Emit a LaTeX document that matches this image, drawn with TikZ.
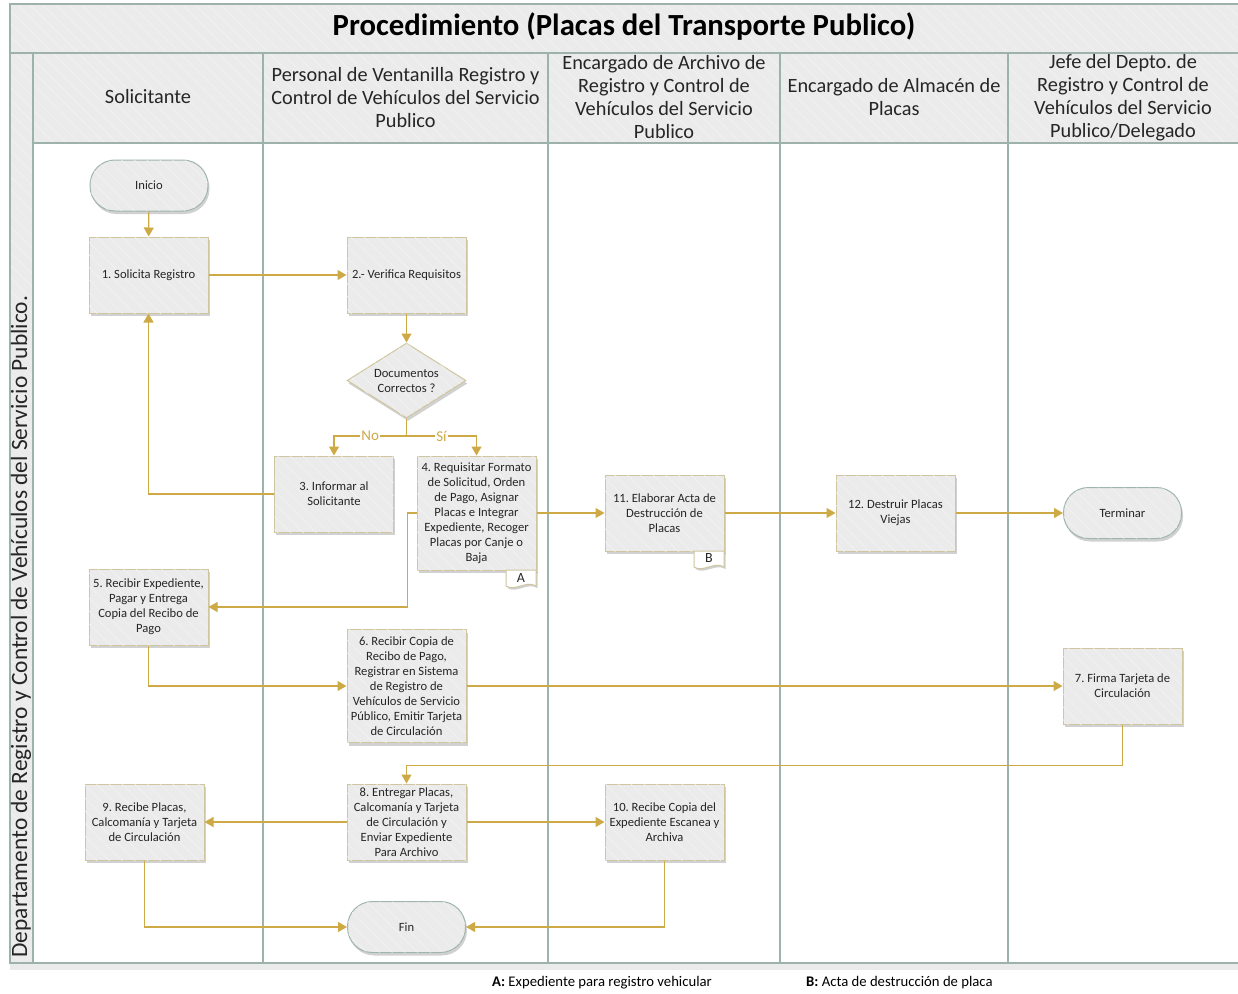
\documentclass[tikz,border=0pt]{standalone}
\usepackage{fontspec}
\setmainfont{Carlito}
\usetikzlibrary{shapes.geometric,shapes.misc,shadows,arrows.meta,patterns.meta,calc}
\definecolor{lanecol}{HTML}{9DB2AB}
\definecolor{boxfill}{HTML}{EBEBEB}
\definecolor{boxline}{HTML}{CFC6A0}
\definecolor{arrowcol}{HTML}{CDAA45}
\definecolor{headfill}{HTML}{EBEBEB}
\definecolor{termline}{HTML}{9FB5AD}
\definecolor{txt}{HTML}{262626}
\frenchspacing
\tikzset{
  hatch/.style={postaction={pattern={Lines[angle=-45,distance=9pt,line width=0.5pt]},pattern color=white!45!boxfill}},
  shade box/.style={drop shadow={shadow xshift=1.5pt,shadow yshift=-3pt,fill=black,opacity=0.18}},
  stepbox/.style={draw=boxline,line width=1pt,fill=boxfill,hatch,shade box,minimum width=119pt,minimum height=76pt,align=center,inner sep=1pt,font=\fontsize{12.6}{15}\selectfont,text=txt},
  term/.style={rectangle,rounded corners=25pt,draw=termline,line width=1pt,fill=boxfill,hatch,shade box,minimum width=118pt,minimum height=51pt,font=\fontsize{12.6}{15}\selectfont,text=txt},
  decision/.style={diamond,aspect=1.6,draw=boxline,line width=1pt,fill=boxfill,hatch,shade box,minimum width=119pt,minimum height=75pt,inner sep=0pt,align=center,font=\fontsize{12.6}{15}\selectfont,text=txt},
  flow/.style={draw=arrowcol,line width=1.2pt,-{Triangle[length=9pt,width=10pt]}},
  lbl/.style={fill=white,inner sep=1pt,text=arrowcol,font=\fontsize{15}{15}\selectfont},
  lane/.style={draw=lanecol,line width=1.3pt},
  headtxt/.style={align=center,font=\fontsize{20.3}{23}\selectfont,text=txt},
  tag/.style={draw=boxline,line width=1pt,fill=white,drop shadow={shadow xshift=1.5pt,shadow yshift=-2pt,fill=black,opacity=0.18}},
  tagtxt/.style={font=\fontsize{14}{15}\selectfont,text=txt,inner sep=0pt}
}
\begin{document}
\begin{tikzpicture}[x=1pt,y=-1pt]
\useasboundingbox (0,0) rectangle (1238,993);
% backgrounds
\fill[headfill,hatch] (10,4) rectangle (1238,53);
\fill[headfill,hatch] (10,53) rectangle (33,963);
\fill[headfill,hatch] (33,53) rectangle (1238,143);
\fill[black!8] (10,963) rectangle (1238,970);
% frame and lanes
\draw[lane] (1238,4) -- (10,4) -- (10,963) -- (1238,963);
\draw[lane] (10,53) -- (1238,53);
\draw[lane] (33,53) -- (33,963);
\draw[lane] (33,143) -- (1238,143);
\foreach \x in {263,548,780,1008} \draw[lane] (\x,53) -- (\x,963);
% title and headers
\node[font=\bfseries\fontsize{30.7}{32}\selectfont,text=black] (title) at (624,27) {Procedimiento (Placas del Transporte Publico)};
\node[rotate=90,font=\fontsize{23.4}{25}\selectfont,text=txt,anchor=west] (dept) at (21,961) {Departamento de Registro y Control de Vehículos del Servicio Publico.};
\node[headtxt] (h1) at (148,97) {Solicitante};
\node[headtxt] (h2) at (405.5,97.5) {Personal de Ventanilla Registro y\\Control de Vehículos del Servicio\\Publico};
\node[headtxt] (h3) at (664,97.5) {Encargado de Archivo de\\Registro y Control de\\Vehículos del Servicio\\Publico};
\node[headtxt] (h4) at (894,97.5) {Encargado de Almacén de\\Placas};
\node[headtxt] (h5) at (1123,97.5) {Jefe del Depto. de\\Registro y Control de\\Vehículos del Servicio\\Publico/Delegado};
% nodes
\node[term] (inicio) at (149,185.5) {Inicio};
\node[stepbox] (s1) at (148.5,275) {1. Solicita Registro};
\node[stepbox] (s2) at (406.5,275) {2.- Verifica Requisitos};
\node[decision] (dec) at (406.5,380.5) {Documentos\\Correctos ?};
\node[stepbox] (s3) at (334,494) {3. Informar al\\Solicitante};
\node[stepbox,minimum height=114pt] (s4) at (476.5,513) {4. Requisitar Formato\\de Solicitud, Orden\\de Pago, Asignar\\Placas e Integrar\\Expediente, Recoger\\Placas por Canje o\\Baja};
\node[stepbox] (s11) at (664.5,513) {11. Elaborar Acta de\\Destrucción de\\Placas};
\node[stepbox] (s12) at (895.5,513) {12. Destruir Placas\\Viejas};
\node[term] (terminar) at (1122.5,513) {Terminar};
\node[stepbox] (s5) at (148.5,607) {5. Recibir Expediente,\\Pagar y Entrega\\Copia del Recibo de\\Pago};
\node[stepbox,minimum height=113pt] (s6) at (406.5,686) {6. Recibir Copia de\\Recibo de Pago,\\Registrar en Sistema\\de Registro de\\Vehículos de Servicio\\Público, Emitir Tarjeta\\de Circulación};
\node[stepbox] (s7) at (1122.5,686) {7. Firma Tarjeta de\\Circulación};
\node[stepbox] (s8) at (406.5,822) {8. Entregar Placas,\\Calcomanía y Tarjeta\\de Circulación y\\Enviar Expediente\\Para Archivo};
\node[stepbox] (s9) at (144.5,822) {9. Recibe Placas,\\Calcomanía y Tarjeta\\de Circulación};
\node[stepbox] (s10) at (664.5,822) {10. Recibe Copia del\\Expediente Escanea y\\Archiva};
\node[term] (fin) at (406.5,927) {Fin};
% document tags
\draw[tag] (506,570) -- (506,586) .. controls (515,592) and (526,580) .. (536,586) -- (536,570) -- cycle;
\node[tagtxt] (tagA) at (521,577.5) {A};
\draw[tag] (694,551) -- (694,567) .. controls (703,573) and (714,561) .. (724,567) -- (724,551) -- cycle;
\node[tagtxt] (tagB) at (709,557.5) {B};
% connectors
\coordinate (br) at (406.5,436);
\draw[flow] (inicio) -- (s1);
\draw[flow] (s1) -- (s2);
\draw[flow] (s2) -- (dec);
\draw[flow] (dec.south) -- (br) -| node[lbl,pos=0.25] {No} (s3.north);
\draw[flow] (br) -| node[lbl,pos=0.25] {Sí} (s4.north);
\draw[flow] (s3.west) -| (s1.south);
\draw[flow] (s4.west) -- ++(-9,0) |- (s5.east);
\draw[flow] (s4.east) -- (s11.west);
\draw[flow] (s11) -- (s12);
\draw[flow] (s12) -- (terminar);
\draw[flow] (s5.south) |- (s6.west);
\draw[flow] (s6) -- (s7);
\draw[flow] (s7.south) -- ++(0,41) -| (s8.north);
\draw[flow] (s8) -- (s9);
\draw[flow] (s8) -- (s10);
\draw[flow] (s9.south) |- (fin.west);
\draw[flow] (s10.south) |- (fin.east);
% footnotes
\node[anchor=west,font=\fontsize{14.7}{15}\selectfont,text=black,inner sep=0pt] (noteA) at (492,983) {\textbf{A:} Expediente para registro vehicular};
\node[anchor=west,font=\fontsize{14.7}{15}\selectfont,text=black,inner sep=0pt] (noteB) at (806,983) {\textbf{B:} Acta de destrucción de placa};
\end{tikzpicture}
\end{document}
